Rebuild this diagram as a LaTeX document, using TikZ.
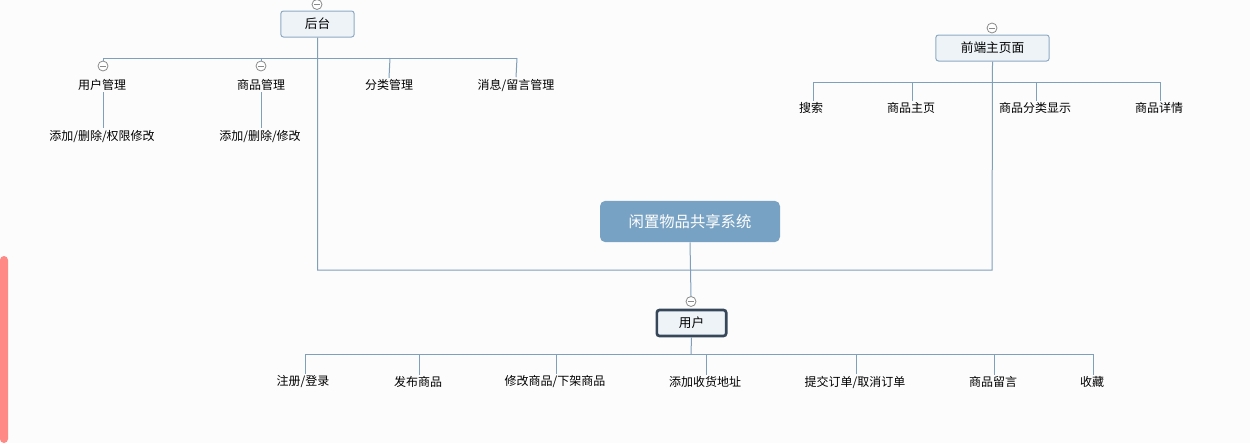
\documentclass[tikz,border=0pt]{standalone}
\usepackage{fontspec}
\setmainfont{Noto Sans CJK SC}
\usetikzlibrary{calc}
\definecolor{bg}{HTML}{FCFCFC}
\definecolor{ln}{HTML}{7F9FBA}
\definecolor{boxfill}{HTML}{EEF3F8}
\definecolor{boxdraw}{HTML}{8DAAC4}
\definecolor{mainc}{HTML}{78A2C3}
\definecolor{darkc}{HTML}{37475A}
\definecolor{pinkc}{HTML}{FF8A85}
\definecolor{foldc}{HTML}{8A8A8A}
\tikzset{
  conn/.style={draw=ln, line width=0.75pt},
  topic/.style={draw=boxdraw, fill=boxfill, rounded corners=2pt, line width=0.75pt,
    minimum height=19.5pt, inner sep=0pt, font=\fontsize{9.5}{11}\selectfont},
  leaf/.style={inner sep=1pt, font=\fontsize{9}{11}\selectfont, text=black},
  fold/.style={circle, draw=foldc, fill=white, line width=0.6pt, minimum size=7.5pt, inner sep=0pt,
    path picture={\draw[foldc, line width=0.6pt] ($(path picture bounding box.west)+(1.6pt,0)$) -- ($(path picture bounding box.east)-(1.6pt,0)$);}},
}
\begin{document}
\begin{tikzpicture}[x=0.75pt,y=-0.75pt]
\useasboundingbox (0,0) rectangle (1250,443);
\fill[bg] (0,0) rectangle (1250,443);
\fill[pinkc, rounded corners=3pt] (0,443) -- (0,256) -- (8,256) -- (8,443) -- cycle;

% central
\node[fill=mainc, rounded corners=4pt, minimum width=135pt, minimum height=31pt, inner sep=0pt,
  text=white, font=\fontsize{11.5}{13}\selectfont] (sys) at (690,221.5) {闲置物品共享系统};

% backend
\node[topic, minimum width=55pt] (houtai) at (317.5,24) {后台};
\node[fold] (foldH) at (317,4.5) {};
\node[topic, minimum width=85pt] (qd) at (992.5,48) {前端主页面};
\node[fold] (foldQ) at (992,28) {};
\node[topic, draw=darkc, line width=2pt, minimum width=52pt] (user) at (691.5,323) {用户};
\node[fold] (foldU) at (691,301.5) {};

\coordinate (jR) at (992,270);
\draw[conn] (houtai.south) |- (jR) -- (qd.south);
\draw[conn] (sys.south) -- (foldU.north);

% backend children
\coordinate (b1) at (103,58);
\coordinate (b2) at (261,58);
\coordinate (b3) at (390,58);
\coordinate (b4) at (517,58);
\draw[conn] (b1) -- (b4);
\node[fold] (foldA) at (103,66) {};
\node[fold] (foldB) at (261,66) {};
\node[leaf] (yhgl) at (102,85) {用户管理};
\node[leaf] (spgl) at (261,85) {商品管理};
\node[leaf] (flgl) at (389,85) {分类管理};
\node[leaf] (xxgl) at (516,85) {消息/留言管理};
\draw[conn] (b1) -- (foldA.north);
\draw[conn] (b2) -- (foldB.north);
\draw[conn] (b3) -- (flgl.north);
\draw[conn] (b4) -- (xxgl.north);
\node[leaf] (yhsub) at (102,136) {添加/删除/权限修改};
\node[leaf] (spsub) at (260,136) {添加/删除/修改};
\draw[conn] (yhgl.south -| foldA) -- (yhsub.north -| foldA);
\draw[conn] (spgl.south -| foldB) -- (spsub.north -| foldB);

% frontend children
\coordinate (f1) at (813,82);
\coordinate (f2) at (912,82);
\coordinate (f3) at (1036,82);
\coordinate (f4) at (1160,82);
\draw[conn] (f1) -- (f4);
\node[leaf] (ss) at (811,108) {搜索};
\node[leaf] (spzy) at (911,108) {商品主页};
\node[leaf] (spfl) at (1035,108) {商品分类显示};
\node[leaf] (spxq) at (1159,108) {商品详情};
\draw[conn] (f1) -- (f1 |- ss.north);
\draw[conn] (f2) -- (f2 |- spzy.north);
\draw[conn] (f3) -- (f3 |- spfl.north);
\draw[conn] (f4) -- (f4 |- spxq.north);

% user children
\coordinate (u0) at (691,354);
\coordinate (u1) at (305,354);
\coordinate (u2) at (419,354);
\coordinate (u3) at (556,354);
\coordinate (u4) at (706,354);
\coordinate (u5) at (856,354);
\coordinate (u6) at (994,354);
\coordinate (u7) at (1093,354);
\draw[conn] (user.south) -- (u0);
\draw[conn] (u1) -- (u7);
\node[leaf] (zc) at (303,382) {注册/登录};
\node[leaf] (fb) at (418,382) {发布商品};
\node[leaf] (xg) at (555,382) {修改商品/下架商品};
\node[leaf] (tj) at (705,382) {添加收货地址};
\node[leaf] (dd) at (855,382) {提交订单/取消订单};
\node[leaf] (ly) at (993,382) {商品留言};
\node[leaf] (sc) at (1092,382) {收藏};
\draw[conn] (u1) -- (u1 |- zc.north);
\draw[conn] (u2) -- (u2 |- fb.north);
\draw[conn] (u3) -- (u3 |- xg.north);
\draw[conn] (u4) -- (u4 |- tj.north);
\draw[conn] (u5) -- (u5 |- dd.north);
\draw[conn] (u6) -- (u6 |- ly.north);
\draw[conn] (u7) -- (u7 |- sc.north);
\end{tikzpicture}
\end{document}
